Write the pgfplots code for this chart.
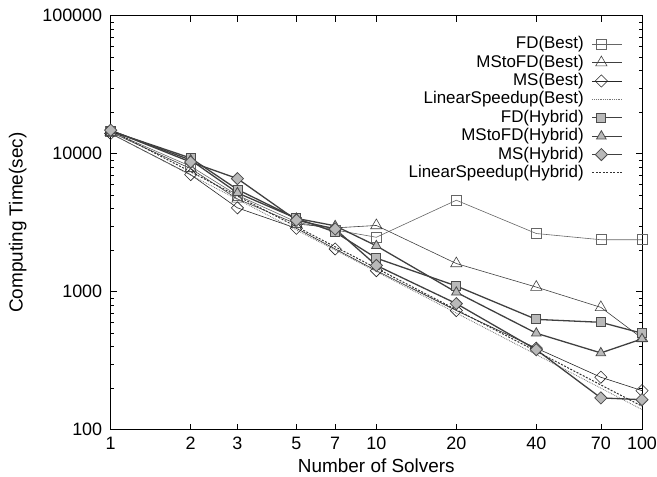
\documentclass[border=0pt]{standalone}
\usepackage{fontspec}
\setmainfont{Liberation Sans}
\usepackage{pgfplots}
\pgfplotsset{compat=1.18}

\pgfplotsset{
  best/.style={line width=0.6bp, mark options={solid, fill=white, line width=0.6bp}},
  hyb/.style={line width=1.3bp, black!75, mark options={solid, fill=gray!55, draw=black!70, line width=0.8bp}},
}

\begin{document}
\begin{tikzpicture}
\path[use as bounding box] (-110.7bp,-47bp) rectangle (546.3bp,429.7bp);
\begin{loglogaxis}[
  scale only axis, width=531.3bp, height=414bp,
  xmin=1, xmax=100, ymin=100, ymax=100000,
  xtick={1,2,3,5,7,10,20,40,70,100},
  xticklabels={1,2,3,5,7,10,20,40,70,100},
  minor xtick={},
  ytick={100,1000,10000,100000},
  yticklabels={100,1000,10000,100000},
  minor ytick={200,300,400,500,600,700,800,900,2000,3000,4000,5000,6000,7000,8000,9000,20000,30000,40000,50000,60000,70000,80000,90000},
  major tick length=6bp, minor tick length=3bp,
  tick style={black, line width=0.6bp},
  axis line style={line width=0.7bp},
  tick label style={font=\fontsize{18}{20}\selectfont},
  xticklabel style={yshift=-4bp},
  yticklabel style={xshift=-5bp},
  label style={font=\fontsize{19}{22}\selectfont},
  xlabel={Number of Solvers},
  ylabel={Computing Time(sec)},
  xlabel style={at={(axis description cs:0.5,-0.1039)}, anchor=base},
  ylabel style={at={(axis description cs:-0.175,0.5)}, anchor=center},
  clip=false,
  legend plot pos=right,
  legend cell align=right,
  legend image code/.code={\draw[mark repeat=2,mark phase=2] plot coordinates {(0bp,0bp) (9bp,0bp) (30bp,0bp)};},
  legend style={at={(axis description cs:1,1)}, xshift=-19bp, yshift=-21bp, anchor=north east,
    draw=none, fill=none, inner sep=0pt, outer sep=0pt, row sep=3.4bp, column sep=8bp,
    nodes={inner sep=0pt, text height=12bp, text depth=3bp, font=\fontsize{17}{20}\selectfont}},
]
% FD(Best)
\addplot[best, black!60, mark=square, mark size=5bp] coordinates {
  (1,14500) (2,8100) (3,5000) (5,3200) (7,2800) (10,2480) (20,4600) (40,2640) (70,2380) (100,2380)};
\addlegendentry{FD(Best)}
% MStoFD(Best)
\addplot[best, black!75, mark=triangle, mark size=6.5bp] coordinates {
  (1,14300) (2,7800) (3,4700) (5,3100) (7,2900) (10,3020) (20,1600) (40,1080) (70,770) (100,460)};
\addlegendentry{MStoFD(Best)}
% MS(Best)
\addplot[line width=0.6bp, black!85, mark=square, mark size=4.3bp,
  mark options={solid, fill=white, line width=0.6bp, rotate=45}] coordinates {
  (1,14000) (2,7050) (3,4050) (5,2880) (7,2040) (10,1420) (20,730) (40,390) (70,240) (100,192)};
\addlegendentry{MS(Best)}
% LinearSpeedup(Best)
\addplot[black!55, line width=0.8bp, densely dotted] coordinates {
  (1,14000) (2,7000) (3,4667) (5,2800) (7,2000) (10,1400) (20,700) (40,350) (70,200) (100,140)};
\addlegendentry{LinearSpeedup(Best)}
% FD(Hybrid)
\addplot[hyb, mark=square*, mark size=4.5bp] coordinates {
  (1,14600) (2,9300) (3,5500) (5,3400) (7,2700) (10,1750) (20,1100) (40,630) (70,600) (100,500)};
\addlegendentry{FD(Hybrid)}
% MStoFD(Hybrid)
\addplot[hyb, mark=triangle*, mark size=5.5bp] coordinates {
  (1,14700) (2,9000) (3,5200) (5,3400) (7,3000) (10,2150) (20,990) (40,500) (70,360) (100,455)};
\addlegendentry{MStoFD(Hybrid)}
% MS(Hybrid)
\addplot[line width=1.3bp, black!75, mark=square*, mark size=4.3bp,
  mark options={solid, fill=gray!55, draw=black!70, line width=0.8bp, rotate=45}] coordinates {
  (1,14800) (2,8700) (3,6600) (5,3300) (7,2850) (10,1550) (20,820) (40,380) (70,170) (100,165)};
\addlegendentry{MS(Hybrid)}
% LinearSpeedup(Hybrid)
\addplot[black!80, line width=1bp, dash pattern=on 2bp off 1.5bp] coordinates {
  (1,14800) (2,7400) (3,4933) (5,2960) (7,2114) (10,1480) (20,740) (40,370) (70,211) (100,148)};
\addlegendentry{LinearSpeedup(Hybrid)}
\end{loglogaxis}
\end{tikzpicture}
\end{document}
